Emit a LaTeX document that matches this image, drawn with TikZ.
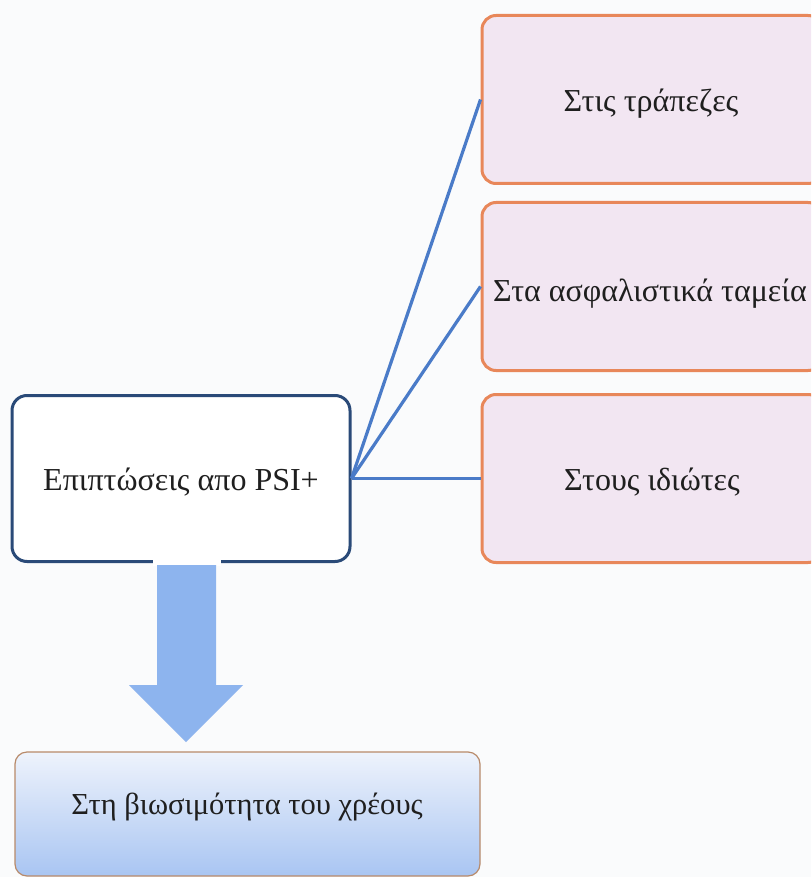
\documentclass[tikz,border=0pt]{standalone}
\usepackage{fontspec}
\setmainfont{Liberation Serif}
\definecolor{bgc}{HTML}{FAFBFC}
\definecolor{navy}{HTML}{2A4A78}
\definecolor{linec}{HTML}{4A7BC8}
\definecolor{orangec}{HTML}{E8875A}
\definecolor{pinkc}{HTML}{F2E6F2}
\definecolor{arrowc}{HTML}{8DB4EE}
\definecolor{brownc}{HTML}{B88A6A}
\definecolor{gradtop}{HTML}{EEF3FC}
\definecolor{gradbot}{HTML}{A9C5F2}
\tikzset{
  mainbox/.style={draw=navy, line width=3pt, fill=white, rounded corners=15pt, minimum width=338pt, minimum height=166pt, inner sep=0pt},
  sidebox/.style={draw=orangec, line width=3pt, fill=pinkc, rounded corners=14pt, minimum width=340pt, minimum height=168pt, inner sep=0pt},
  botbox/.style={draw=brownc, line width=1.2pt, rounded corners=12pt, top color=gradtop, bottom color=gradbot, minimum width=465pt, minimum height=124pt, inner sep=0pt},
  lbl/.style={font=\fontsize{32}{38}\selectfont, text=black!88, inner sep=0pt},
  conn/.style={draw=linec, line width=3.2pt},
  bigarrow/.style={fill=arrowc, draw=none}
}
\begin{document}
\begin{tikzpicture}[x=1pt,y=-1pt]
\fill[bgc] (0,0) rectangle (811,877);
\clip (0,0) rectangle (811,877);
\useasboundingbox (0,0) rectangle (811,877);
% right boxes
\node[sidebox] (b1) at (652,99.5) {};
\node[lbl] (t1) at (651,104) {Στις τράπεζες};
\node[sidebox] (b2) at (652,286.5) {};
\node[lbl] (t2) at (650,294) {Στα ασφαλιστικά ταμεία};
\node[sidebox] (b3) at (652,478.5) {};
\node[lbl] (t3) at (652,482) {Στους ιδιώτες};
% main box
\node[mainbox] (m) at (181,478.5) {};
\node[lbl] (tm) at (181,482) {Επιπτώσεις απο PSI+};
% connectors
\draw[conn] (m.east) -- (b1.west);
\draw[conn] (m.east) -- (b2.west);
\draw[conn] (m.east) -- (b3.west);
% bottom box
\node[botbox] (bot) at (247.5,814) {};
\node[lbl, font=\fontsize{30.5}{36}\selectfont] (tb) at (247,807) {Στη βιωσιμότητα του χρέους};
% big arrow from main box to bottom box
\fill[white] (153,556) rectangle (221,566);
\fill[bigarrow] (157,565) -- (216,565) -- (216,685) -- (243,685) -- (186,742) -- (129,685) -- (157,685) -- cycle;
\end{tikzpicture}
\end{document}
